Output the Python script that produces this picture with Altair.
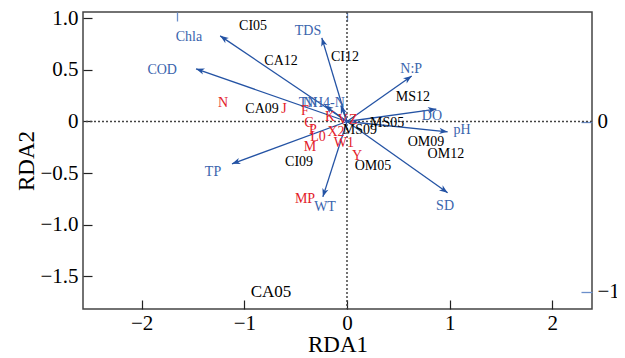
import altair as alt
import pandas as pd

# Environmental variables (arrow tips and label positions, RDA1/RDA2 units)
env_names = ["Chla", "COD", "TDS", "TN", "NH4-N", "N:P", "DO", "pH", "SD", "TP", "WT"]
env_x = [-1.235, -1.47, -0.245, -0.215, -0.06, 0.63, 0.87, 0.98, 0.98, -1.12, -0.235]
env_y = [0.83, 0.51, 0.81, 0.155, 0.155, 0.44, 0.12, -0.10, -0.69, -0.41, -0.73]
env_lab_x = [-1.54, -1.80, -0.38, -0.38, -0.225, 0.625, 0.827, 1.12, 0.955, -1.305, -0.214]
env_lab_y = [0.816, 0.495, 0.874, 0.184, 0.184, 0.505, 0.049, -0.087, -0.816, -0.485, -0.825]

# Species (red)
sp_names = ["N", "J", "F", "C", "P", "L0", "M", "K", "X2", "W1", "Y", "MP", "V", "Z"]
sp_x = [-1.207, -0.614, -0.409, -0.37, -0.331, -0.283, -0.36, -0.165, -0.107, -0.03, 0.098, -0.409, -0.04, 0.06]
sp_y = [0.175, 0.117, 0.097, -0.010, -0.087, -0.155, -0.252, 0.039, -0.097, -0.204, -0.330, -0.748, 0.01, 0.01]

# Sites (black)
site_names = ["CI05", "CA12", "CI12", "CA09", "MS12", "MS05", "MS09", "OM09", "OM12", "OM05", "CI09", "CA05"]
site_x = [-0.915, -0.642, -0.02, -0.827, 0.642, 0.39, 0.126, 0.769, 0.963, 0.253, -0.467, -0.74]
site_y = [0.922, 0.583, 0.621, 0.117, 0.233, -0.010, -0.087, -0.194, -0.311, -0.427, -0.388, -1.650]
site_size = [14, 14, 14, 14, 14, 14, 14, 14, 14, 14, 14, 17]

x_ticks = [-2, -1, 0, 1, 2]
y_ticks = [1.0, 0.5, 0, -0.5, -1.0, -1.5]
sec_ticks = [-1, 0]

X_DOM = [-2.571, 2.386]
Y_DOM = [-1.817, 1.061]
X2_DOM = [-1.553, 1.441]
Y2_DOM = [-1.1, 0.647]

FONT = "Liberation Serif"
BLUE = "#2453a4"
LBLUE = "#3a64ad"
RED = "#e3202a"

env = pd.DataFrame({"name": env_names, "x": env_x, "y": env_y,
                    "lx": env_lab_x, "ly": env_lab_y, "x0": 0.0, "y0": 0.0})
sp = pd.DataFrame({"name": sp_names, "x": sp_x, "y": sp_y})
site = pd.DataFrame({"name": site_names, "x": site_x, "y": site_y, "s": site_size})
zero = pd.DataFrame({"v": [0.0]})

xs = alt.Scale(domain=X_DOM, nice=False, zero=False)
ys = alt.Scale(domain=Y_DOM, nice=False, zero=False)

x_axis = alt.Axis(values=x_ticks, format="d", orient="bottom", offset=-9, tickSize=9,
                  domain=False, grid=False, labelPadding=3, title="RDA1", titlePadding=0,
                  tickColor="#222", tickWidth=1.2)
y_axis = alt.Axis(values=y_ticks, orient="left", offset=-9, tickSize=9, domain=False, grid=False,
                  labelExpr="datum.value == 0 ? '0' : format(datum.value, '.1f')",
                  labelPadding=5, title="RDA2", titlePadding=1,
                  tickColor="#222", tickWidth=1.2)

vrule = alt.Chart(zero).mark_rule(color="#444", strokeDash=[2, 2], strokeWidth=1.5).encode(
    x=alt.X("v:Q", scale=xs, axis=x_axis))
hrule = alt.Chart(zero).mark_rule(color="#444", strokeDash=[2, 2], strokeWidth=1.5).encode(
    y=alt.Y("v:Q", scale=ys, axis=y_axis))

arrows = alt.Chart(env).mark_rule(color=BLUE, strokeWidth=1.3).encode(
    x=alt.X("x0:Q", scale=xs), y=alt.Y("y0:Q", scale=ys), x2="x:Q", y2="y:Q")

pxx = 509 / (X_DOM[1] - X_DOM[0])
pxy = 297 / (Y_DOM[1] - Y_DOM[0])
heads = alt.Chart(env).transform_calculate(
    ang=f"(atan2(datum.x*{pxx}, datum.y*{pxy})*180/PI + 360) % 360"
).mark_point(shape="M0,0 L-0.38,1 L0,0.72 L0.38,1 Z", filled=True, color=BLUE,
             size=280, opacity=1).encode(
    x=alt.X("x:Q", scale=xs), y=alt.Y("y:Q", scale=ys),
    angle=alt.Angle("ang:Q", scale=None))

env_text = alt.Chart(env).mark_text(font=FONT, fontSize=14, color=LBLUE,
                                    align="center", baseline="middle").encode(
    x=alt.X("lx:Q", scale=xs), y=alt.Y("ly:Q", scale=ys), text="name:N")

sp_text = alt.Chart(sp).mark_text(font=FONT, fontSize=14, color=RED,
                                  align="center", baseline="middle").encode(
    x=alt.X("x:Q", scale=xs), y=alt.Y("y:Q", scale=ys), text="name:N")

site_text = alt.Chart(site).mark_text(font=FONT, color="black",
                                      align="center", baseline="middle").encode(
    x=alt.X("x:Q", scale=xs), y=alt.Y("y:Q", scale=ys), text="name:N",
    size=alt.Size("s:Q", scale=None))

main = alt.layer(vrule, hrule, arrows, heads, env_text, sp_text, site_text)

sec = pd.DataFrame({"a": sec_ticks, "b": sec_ticks})
secondary = alt.Chart(sec).mark_point(opacity=0).encode(
    x=alt.X("a:Q", scale=alt.Scale(domain=X2_DOM, nice=False, zero=False),
            axis=alt.Axis(orient="top", values=sec_ticks, labels=False, offset=-9, tickSize=9,
                          domain=False, grid=False, title=None, tickColor="#6b8fcb", tickWidth=1.3)),
    y=alt.Y("b:Q", scale=alt.Scale(domain=Y2_DOM, nice=False, zero=False),
            axis=alt.Axis(orient="right", values=sec_ticks, format="d", offset=-11, tickSize=11,
                          domain=False, grid=False, title=None, labelPadding=5,
                          tickColor="#6b8fcb", tickWidth=1.3)))

chart = alt.layer(main, secondary).resolve_scale(x="independent", y="independent").properties(
    width=509, height=297,
    autosize=alt.AutoSizeParams(type="none"),
    padding={"left": 75, "top": 4, "right": 25, "bottom": 49},
    background="white",
).configure_view(stroke="#444", strokeWidth=1.5).configure_axis(
    labelFont=FONT, labelFontSize=21, labelColor="black",
    titleFont=FONT, titleFontSize=23, titleFontWeight="normal", titleColor="black",
)

chart.save("out.html", embed_options={"renderer": "svg", "actions": False})
